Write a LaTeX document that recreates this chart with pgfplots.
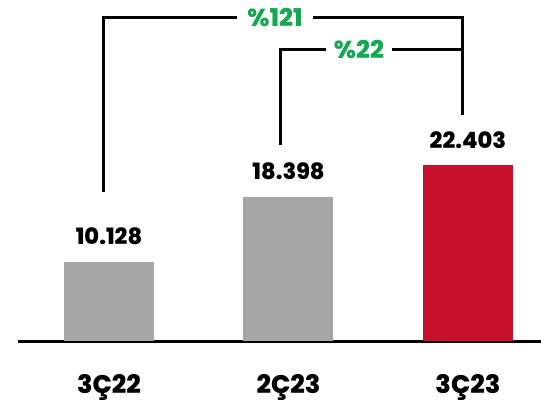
\documentclass[border=0pt]{standalone}
\usepackage{pgfplots}
\pgfplotsset{compat=1.18}
\usepackage{fontspec}
\setmainfont{Poppins}[BoldFont={Poppins ExtraBold}]
\definecolor{bargray}{HTML}{A6A6A6}
\definecolor{barred}{HTML}{C8102E}
\definecolor{pctgreen}{HTML}{14A850}
\begin{document}
\begin{tikzpicture}
\useasboundingbox (-18pt,-61pt) rectangle (523pt,341pt);
\begin{axis}[
  scale only axis,
  width=523pt, height=341pt,
  xmin=-0.507, xmax=2.407,
  ymin=0, ymax=43.5,
  clip=false,
  axis x line=bottom, axis y line=none,
  x axis line style={-, line width=3pt},
  xtick={0,1,2},
  xticklabels={3Ç22,2Ç23,3Ç23},
  xtick style={draw=none},
  ytick=\empty,
  xticklabel style={font=\fontsize{25.5}{28}\selectfont\bfseries, inner sep=0pt, yshift=-29pt},
  ybar, bar width=90pt, bar shift=0pt,
  point meta=explicit symbolic,
  nodes near coords,
  every node near coord/.append style={font=\fontsize{22.5}{24}\selectfont\bfseries, inner sep=0pt, yshift=17pt, text=black},
]
\addplot[fill=bargray, draw=none] coordinates {(0,10.128) [10.128]};
\addplot[fill=bargray, draw=none] coordinates {(1,18.398) [18.398]};
\addplot[fill=barred, draw=none] coordinates {(2,22.403) [22.403]};
\draw[line width=3pt] (axis cs:-0.028,19.0) |- (axis cs:1.972,41.25) -- (axis cs:1.972,28.8);
\draw[line width=3pt] (axis cs:0.953,25.0) |- (axis cs:1.972,37.16);
\node[fill=white, text=pctgreen, inner xsep=10pt, inner ysep=2pt, font=\fontsize{24.5}{26}\selectfont\bfseries] at (axis cs:0.925,41.25) {\%121};
\node[fill=white, text=pctgreen, inner xsep=8pt, inner ysep=2pt, font=\fontsize{24.5}{26}\selectfont\bfseries] at (axis cs:1.393,37.16) {\%22};
\end{axis}
\end{tikzpicture}
\end{document}
